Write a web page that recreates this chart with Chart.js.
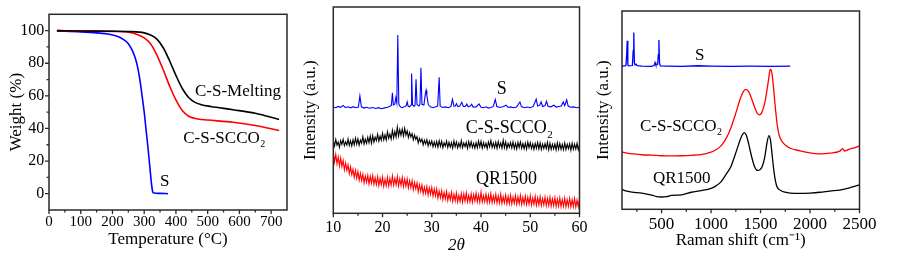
<!DOCTYPE html>
<html><head><meta charset="utf-8">
<script src="https://cdn.jsdelivr.net/npm/chart.js@4.4.0/dist/chart.umd.min.js"></script>
<style>
html,body{margin:0;padding:0;background:#fff;width:903px;height:256px;overflow:hidden;position:relative}
canvas{position:absolute;top:0}
#c1{left:0} #c2{left:300px} #c3{left:590px}
</style></head><body>
<canvas id="c1" width="300" height="256"></canvas>
<canvas id="c2" width="300" height="256"></canvas>
<canvas id="c3" width="313" height="256"></canvas>
<script>
// ---------- Panel 1: TGA ----------
const meltT  = [25, 100, 200, 260, 300, 320, 340, 360, 380, 400, 420, 440, 460, 480, 510, 580, 650, 725];
const meltW  = [100, 99.8, 99.6, 99.4, 98.6, 97.3, 94.8, 89.5, 81.5, 72.5, 64.5, 59.0, 56.0, 54.6, 53.5, 51.5, 49.3, 45.5];
const scco2T = [25, 100, 200, 245, 280, 300, 320, 340, 360, 380, 400, 420, 440, 470, 500, 580, 650, 725];
const scco2W = [100, 99.8, 99.5, 99.1, 97.5, 95.5, 92.0, 85.0, 76.0, 66.0, 57.5, 51.0, 47.5, 45.8, 45.2, 43.8, 41.8, 38.8];
const sulfurT = [25, 100, 150, 190, 215, 235, 250, 262, 272, 280, 287, 294, 300, 306, 312, 318, 323, 327, 330, 350, 375];
const sulfurW = [99.8, 99.2, 98.6, 97.8, 96.5, 94.5, 92.0, 88.0, 83.0, 77.0, 69.0, 59.0, 50.0, 39.0, 28.0, 16.0, 6.0, 1.0, 0.4, 0.2, 0];
const tgaXMajor = [0, 100, 200, 300, 400, 500, 600, 700];
const tgaXMinor = [50, 150, 250, 350, 450, 550, 650];
const tgaYMajor = [0, 20, 40, 60, 80, 100];
const tgaYMinor = [10, 30, 50, 70, 90];

// ---------- Panel 2: XRD ----------
const sXrdTheta = [10,10.5,11,11.5,12,12.4,13,13.5,14,14.6,15.1,15.4,15.7,16.2,16.8,17.3,18,18.6,19.2,19.8,20.4,21,21.5,21.8,22,22.2,22.5,22.7,22.9,23.1,23.3,23.6,24,24.5,24.8,25,25.2,25.5,25.8,25.9,26.1,26.4,26.6,26.8,27,27.4,27.6,27.8,28,28.4,28.7,28.85,29,29.3,29.8,30.3,30.8,31.2,31.5,31.7,32.2,32.8,33.4,33.9,34.2,34.5,34.8,35,35.3,35.7,36.1,36.4,36.8,37.1,37.4,37.8,38.1,38.4,39,39.6,40,40.5,41,41.5,42,42.5,42.9,43.2,43.8,44.4,45.1,45.5,46,46.6,47.2,47.9,48.2,48.8,49.4,50,50.6,51.2,51.5,51.9,52.2,52.5,53,53.3,53.6,54.2,54.8,55.3,55.8,56.3,56.7,57,57.4,57.7,58.2,58.8,59.4,60];
const sXrd = [51.5,51.2,51.8,51.4,52.3,51.3,51.6,51.1,51.7,51.2,51.5,56.9,51.6,51.0,51.4,50.9,51.3,50.8,51.2,50.7,51.1,51.4,51.9,52.3,58.4,52.5,53.0,56.0,53.5,86.4,53.0,51.6,51.2,51.8,52.2,54.0,51.9,51.6,52.5,67.8,52.6,51.8,52.4,65.0,52.6,52.0,52.8,70.5,52.8,52.5,58.0,59.7,57.0,52.6,51.5,51.2,51.6,52.0,65.9,52.0,51.3,51.6,51.2,51.8,55.2,51.9,52.0,53.2,51.7,52.0,53.8,51.8,51.8,52.9,51.6,52.0,52.9,51.5,51.6,53.0,51.4,51.2,51.6,51.0,51.3,51.8,55.2,51.9,51.3,51.6,52.4,51.3,51.6,51.2,51.5,54.0,51.7,51.2,51.5,51.2,51.8,55.3,52.0,52.3,54.0,51.8,52.2,54.3,51.9,51.6,52.4,51.5,51.8,52.0,54.0,52.2,55.0,52.0,51.4,51.6,51.2,51.4];
const xrdTheta = [
  10,10.25,10.5,10.75, 11,11.25,11.5,11.75, 12,12.25,12.5,12.75, 13,13.25,13.5,13.75, 14,14.25,14.5,14.75,
  15,15.25,15.5,15.75, 16,16.25,16.5,16.75, 17,17.25,17.5,17.75, 18,18.25,18.5,18.75, 19,19.25,19.5,19.75,
  20,20.25,20.5,20.75, 21,21.25,21.5,21.75, 22,22.25,22.5,22.75, 23,23.25,23.5,23.75, 24,24.25,24.5,24.75,
  25,25.25,25.5,25.75, 26,26.25,26.5,26.75, 27,27.25,27.5,27.75, 28,28.25,28.5,28.75, 29,29.25,29.5,29.75,
  30,30.25,30.5,30.75, 31,31.25,31.5,31.75, 32,32.25,32.5,32.75, 33,33.25,33.5,33.75, 34,34.25,34.5,34.75,
  35,35.25,35.5,35.75, 36,36.25,36.5,36.75, 37,37.25,37.5,37.75, 38,38.25,38.5,38.75, 39,39.25,39.5,39.75,
  40,40.25,40.5,40.75, 41,41.25,41.5,41.75, 42,42.25,42.5,42.75, 43,43.25,43.5,43.75, 44,44.25,44.5,44.75,
  45,45.25,45.5,45.75, 46,46.25,46.5,46.75, 47,47.25,47.5,47.75, 48,48.25,48.5,48.75, 49,49.25,49.5,49.75,
  50,50.25,50.5,50.75, 51,51.25,51.5,51.75, 52,52.25,52.5,52.75, 53,53.25,53.5,53.75, 54,54.25,54.5,54.75,
  55,55.25,55.5,55.75, 56,56.25,56.5,56.75, 57,57.25,57.5,57.75, 58,58.25,58.5,58.75, 59,59.25,59.5,59.75, 60];
const scco2Xrd = [
  35.2,32.6,35.8,33.0, 34.5,32.0,35.3,33.4, 35.9,32.8,34.6,33.1, 36.0,32.9,35.2,32.7, 35.6,33.2,36.4,33.5,
  36.1,33.0,35.5,34.0, 37.2,33.6,36.0,33.9, 36.8,34.2,37.5,34.0, 37.6,34.5,36.9,35.2, 38.3,35.0,37.4,35.4,
  38.8,35.6,38.0,35.5, 39.5,36.3,38.4,36.0, 40.2,36.6,39.7,37.0, 41.8,37.4,40.6,37.8, 40.9,37.5,41.2,37.9,
  40.0,36.8,39.2,37.0, 38.6,35.6,37.9,35.8, 37.2,34.1,36.3,34.6, 36.0,33.2,35.4,33.6, 35.7,32.6,35.0,33.1,
  35.1,32.2,34.6,32.4, 34.8,32.0,35.2,32.5, 34.9,31.8,34.2,32.6, 35.0,31.9,34.4,32.1, 34.3,31.6,35.1,32.2,
  34.6,31.7,34.0,32.0, 35.2,31.8,34.1,32.3, 34.4,31.5,34.8,32.1, 34.7,31.9,33.9,31.6, 34.2,31.7,35.0,32.2,
  34.9,31.6,34.3,32.0, 34.0,31.4,34.6,32.3, 35.3,31.9,34.1,31.7, 34.5,31.5,34.8,32.0, 34.1,31.6,35.4,31.8,
  34.6,31.3,33.9,32.0, 34.3,31.7,34.6,31.4, 33.9,31.2,34.4,31.9, 34.6,31.5,33.8,31.3, 34.0,31.1,34.5,31.8,
  34.2,31.4,33.7,31.0, 33.9,31.5,34.3,31.2, 34.1,30.9,33.6,31.4, 33.8,31.3,34.4,30.8, 34.0,31.0,33.5,31.2,
  33.6,30.7,34.2,31.1, 33.9,31.0,33.4,30.8, 34.1,30.9,33.5,31.3, 33.7,30.6,34.0,31.0, 33.5,31.1,33.9,30.8, 33.4];
const qrTheta = [10, ...xrdTheta];
const qrXrd = [0,
  29.5,24.8,28.6,24.0, 27.4,23.0,26.8,22.6, 25.6,21.0,24.4,20.8, 23.5,19.2,22.6,18.7, 21.4,17.4,20.8,16.9,
  20.3,16.0,19.4,15.8, 19.0,14.7,18.1,15.0, 18.4,14.2,17.9,14.6, 18.3,14.0,17.2,13.9, 17.8,13.4,17.0,13.8,
  17.6,13.1,16.5,13.3, 17.5,13.2,16.9,13.6, 18.1,13.6,17.0,13.8, 17.9,13.2,16.8,13.5, 17.4,13.0,16.6,13.1,
  16.7,12.3,15.8,12.5, 15.9,11.4,15.0,11.8, 14.8,10.4,13.9,10.6, 13.8,9.5,12.7,9.6, 13.1,8.8,12.4,9.2,
  12.6,8.3,11.8,8.5, 11.9,7.4,10.8,7.6, 10.9,6.6,10.1,6.9, 10.6,6.2,9.5,6.5, 10.2,5.8,9.3,6.0,
  9.9,5.5,8.8,5.7, 9.6,5.4,9.4,5.8, 10.0,5.6,8.7,5.5, 9.5,5.3,9.1,5.9, 9.8,5.6,8.9,5.4,
  10.3,5.5,8.6,5.6, 9.4,5.2,8.8,5.3, 9.6,5.1,8.4,5.4, 9.2,4.9,8.5,5.0, 9.3,4.8,8.1,5.1,
  8.9,4.6,8.2,4.7, 8.8,4.5,7.9,4.8, 8.6,4.4,8.0,4.6, 8.7,4.3,7.7,4.5, 8.4,4.2,7.8,4.4,
  8.5,4.1,7.5,4.3, 8.2,3.9,7.6,4.0, 8.1,3.8,7.2,4.1, 7.9,3.6,7.3,3.8, 7.8,3.5,7.0,3.7,
  7.6,3.3,6.9,3.5, 7.5,3.2,6.7,3.4, 7.4,3.1,6.6,3.3, 7.3,3.1,6.7,3.2, 7.2,3.0,6.5,3.1, 7.0];
const xrdXMajor = [10, 20, 30, 40, 50, 60];
const xrdXMinor = [15, 25, 35, 45, 55];

// ---------- Panel 3: Raman ----------
const sRamanX = [100,140,147,153,159,165,205,213,219,225,232,242,255,300,400,425,434,442,460,467,473,479,487,550,700,870,1000,1200,1400,1600,1800];
const sRaman  = [72.2,72.4,78,85.0,73,72.3,72.5,80,89.2,74,72.8,73.2,72.4,72.2,72.1,72.6,74.0,72.8,73,78,85.4,74,72.3,72.2,72.1,72.4,72.2,72.1,72.2,72.1,72.2];
const scco2RamanX = [100,150,200,300,400,500,600,700,800,900,950,1000,1050,1100,1150,1200,1250,1290,1320,1350,1380,1410,1440,1470,1490,1510,1540,1560,1580,1595,1605,1615,1630,1650,1670,1690,1720,1760,1800,1900,2000,2100,2200,2300,2330,2350,2400,2450,2500];
const scco2Raman  = [29.0,28.3,28.0,27.5,27.3,27.0,26.9,27.0,27.2,27.6,28.1,28.8,30.0,32.0,35.5,41.0,48.5,55.0,58.8,60.5,59.3,55.8,51.5,48.2,47.6,48.5,53.0,58.5,65.0,70.0,70.5,68.5,62.0,51.0,42.0,37.0,34.0,32.0,30.8,29.5,28.5,28.0,28.3,29.3,30.6,29.4,30.4,31.0,32.0];
const qrRamanX = [100,150,200,300,400,450,500,550,600,700,800,900,1000,1050,1100,1150,1200,1240,1280,1310,1335,1355,1380,1410,1440,1470,1490,1520,1545,1565,1585,1600,1620,1640,1665,1700,1750,1800,1900,2000,2100,2200,2300,2400,2450,2500];
const qrRaman  = [10.0,9.2,8.7,8.2,7.2,6.4,6.2,6.4,7.0,7.3,8.6,9.4,10.5,11.8,13.8,17.5,21.5,27.0,33.0,37.0,38.7,37.5,33.0,26.5,21.5,19.6,19.8,22.0,27.0,33.5,37.2,35.0,26.0,17.5,11.5,9.6,8.6,8.2,8.0,8.2,8.6,9.2,9.7,10.8,11.6,12.3];
const ramanXMajor = [500, 1000, 1500, 2000, 2500];
const ramanXMinor = [250, 750, 1250, 1750, 2250];

// ---------- helpers ----------
const FAM = "'Liberation Serif','Times New Roman',serif";
Chart.defaults.font.family = FAM;
Chart.defaults.color = '#000';
const zip = (xs, ys) => xs.map((x, i) => ({x, y: ys[i]}));

const framePlugin = {
  id: 'frame',
  afterDatasetsDraw(chart, args, o) {
    const {ctx, chartArea: a} = chart;
    const xs = chart.scales.x, ys = chart.scales.y;
    ctx.save();
    ctx.strokeStyle = '#2a2a2a';
    ctx.lineWidth = 1.5;
    ctx.strokeRect(a.left, a.top, a.right - a.left, a.bottom - a.top);
    ctx.lineWidth = 1.3;
    ctx.beginPath();
    const tx = (vals, len) => (vals || []).forEach(v => { const p = xs.getPixelForValue(v); ctx.moveTo(p, a.bottom); ctx.lineTo(p, a.bottom + len); });
    const ty = (vals, len) => (vals || []).forEach(v => { const p = ys.getPixelForValue(v); ctx.moveTo(a.left, p); ctx.lineTo(a.left - len, p); });
    tx(o.xMajor, 4); tx(o.xMinor, 2.5); ty(o.yMajor, 4); ty(o.yMinor, 2.5);
    ctx.stroke();
    ctx.restore();
  }
};
const labelPlugin = {
  id: 'curveLabels',
  afterDatasetsDraw(chart, args, o) {
    const {ctx} = chart;
    const xs = chart.scales.x, ys = chart.scales.y;
    (o.items || []).forEach(it => {
      const x = xs.getPixelForValue(it.x), y = ys.getPixelForValue(it.y);
      ctx.save();
      ctx.fillStyle = '#000';
      ctx.textAlign = 'left';
      ctx.textBaseline = 'middle';
      ctx.font = o.size + 'px ' + FAM;
      ctx.fillText(it.text, x, y);
      if (it.sub) {
        const w = ctx.measureText(it.text).width;
        ctx.font = Math.round(o.size * 0.6) + 'px ' + FAM;
        ctx.fillText(it.sub, x + w + 0.5, y + o.size * 0.33);
      }
      ctx.restore();
    });
  }
};

function xAxis(min, max, major, tickSize, tickPad, height, title, titleSize, titlePad, italic) {
  return {
    type: 'linear', position: 'bottom', min, max,
    afterBuildTicks: s => { s.ticks = major.map(v => ({value: v})); },
    afterFit: s => { s.height = height; },
    grid: {display: false, drawTicks: false},
    border: {display: false},
    ticks: {autoSkip: false, maxRotation: 0, minRotation: 0, padding: tickPad, color: '#000',
            font: {size: tickSize, family: FAM}, callback: v => String(v)},
    title: {display: true, text: title, color: '#000', padding: {top: titlePad, bottom: titlePad},
            font: {size: titleSize, family: FAM, style: italic ? 'italic' : 'normal'}}
  };
}
function yAxis(min, max, major, tickSize, tickPad, width, title, titleSize, titlePad) {
  return {
    type: 'linear', position: 'left', min, max,
    afterBuildTicks: s => { s.ticks = (major || []).map(v => ({value: v})); },
    afterFit: s => { s.width = width; },
    grid: {display: false, drawTicks: false},
    border: {display: false},
    ticks: {display: !!major, padding: tickPad, color: '#000', font: {size: tickSize, family: FAM}, callback: v => String(v)},
    title: {display: true, text: title, color: '#000', padding: {top: titlePad, bottom: titlePad},
            font: {size: titleSize, family: FAM}}
  };
}
function line(data, color, width, smooth) {
  return {data, borderColor: color, borderWidth: width, pointRadius: 0, fill: false,
          tension: smooth ? 0.4 : 0, cubicInterpolationMode: smooth ? 'monotone' : 'default'};
}
const common = {responsive: false, animation: false, devicePixelRatio: 1, events: []};

// Panel 1
new Chart(document.getElementById('c1'), {
  type: 'line',
  data: {datasets: [
    line(zip(meltT, meltW), '#000000', 1.6, true),
    line(zip(scco2T, scco2W), '#ff0000', 1.6, true),
    line(zip(sulfurT, sulfurW), '#0000ff', 1.6, true)
  ]},
  options: Object.assign({}, common, {
    layout: {padding: {top: 10, right: 13, left: 0, bottom: 0}},
    scales: {
      x: xAxis(0, 750, tgaXMajor, 15, 2.7, 46, 'Temperature (°C)', 17, 5.8, false),
      y: yAxis(-10, 110, tgaYMajor, 16, 4.7, 49, 'Weight (%)', 17, 6.8)
    },
    plugins: {legend: {display: false}, tooltip: {enabled: false},
      frame: {xMajor: tgaXMajor, xMinor: tgaXMinor, yMajor: tgaYMajor, yMinor: tgaYMinor},
      curveLabels: {size: 17, items: [
        {text: 'C-S-Melting', x: 460, y: 62.5},
        {text: 'C-S-SCCO', sub: '2', x: 423, y: 33.8},
        {text: 'S', x: 350, y: 7.4}
      ]}}
  }),
  plugins: [framePlugin, labelPlugin]
});

// Panel 2
new Chart(document.getElementById('c2'), {
  type: 'line',
  data: {datasets: [
    line(zip(sXrdTheta, sXrd), '#0000ff', 1.1, false),
    line(zip(xrdTheta, scco2Xrd), '#000000', 1.1, false),
    line(zip(qrTheta, qrXrd), '#ff0000', 1.1, false)
  ]},
  options: Object.assign({}, common, {
    layout: {padding: {top: 7, right: 20.5, left: 0, bottom: 0}},
    scales: {
      x: xAxis(10, 60, xrdXMajor, 16, 4.6, 42.7, '2θ', 17, 0, true),
      y: yAxis(0, 100, null, 16, 0, 33.3, 'Intensity (a.u.)', 17, 0)
    },
    plugins: {legend: {display: false}, tooltip: {enabled: false},
      frame: {xMajor: xrdXMajor, xMinor: xrdXMinor},
      curveLabels: {size: 18, items: [
        {text: 'S', x: 43.2, y: 60.2},
        {text: 'C-S-SCCO', sub: '2', x: 36.9, y: 41},
        {text: 'QR1500', x: 39.0, y: 16.5}
      ]}}
  }),
  plugins: [framePlugin, labelPlugin]
});

// Panel 3
new Chart(document.getElementById('c3'), {
  type: 'line',
  data: {datasets: [
    line(zip(sRamanX, sRaman), '#0000ff', 1.3, false),
    line(zip(scco2RamanX, scco2Raman), '#ff0000', 1.3, true),
    line(zip(qrRamanX, qrRaman), '#000000', 1.3, true)
  ]},
  options: Object.assign({}, common, {
    layout: {padding: {top: 11, right: 43.5, left: 0, bottom: 0}},
    scales: {
      x: xAxis(100, 2500, ramanXMajor, 17, 4.7, 46.7, 'Raman shift (cm⁻¹)', 17, 5, false),
      y: yAxis(0, 100, null, 16, 0, 32, 'Intensity (a.u.)', 17, 3.8)
    },
    plugins: {legend: {display: false}, tooltip: {enabled: false},
      frame: {xMajor: ramanXMajor, xMinor: ramanXMinor},
      curveLabels: {size: 17, items: [
        {text: 'S', x: 838, y: 77.3},
        {text: 'C-S-SCCO', sub: '2', x: 282, y: 41.5},
        {text: 'QR1500', x: 413, y: 15.3}
      ]}}
  }),
  plugins: [framePlugin, labelPlugin]
});
</script>
</body></html>
